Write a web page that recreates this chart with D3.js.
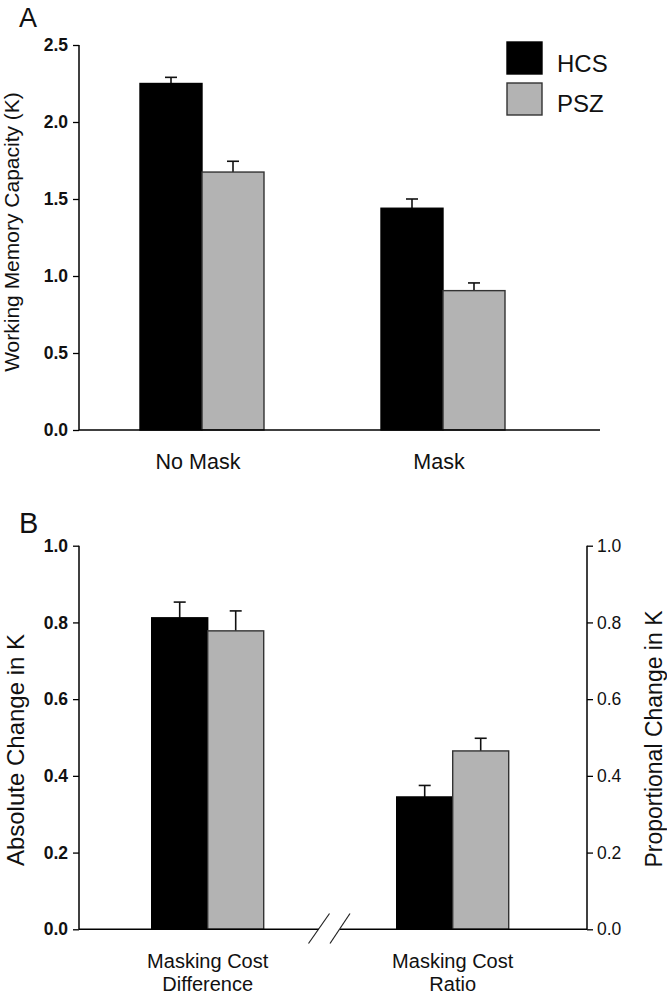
<!DOCTYPE html>
<html><head><meta charset="utf-8">
<script src="https://cdn.jsdelivr.net/npm/d3@7"></script>
<style>
body{margin:0;background:#fff;}
svg{display:block;font-family:Arial,"Liberation Sans",Helvetica,sans-serif;}
</style></head>
<body>
<svg id="c" width="667" height="996"></svg>
<script>
// ---- data ----
const seriesNames = ["HCS","PSZ"];
const seriesColors = ["#000000","#b3b3b3"];
const catsA = ["No Mask","Mask"];
const valsA_HCS = [2.25, 1.44];
const valsA_PSZ = [1.675, 0.905];
const errA_HCS = [0.04, 0.06];
const errA_PSZ = [0.07, 0.05];
const ticksA = [0,0.5,1.0,1.5,2.0,2.5];

const catsB = [["Masking Cost","Difference"],["Masking Cost","Ratio"]];
const valsB_HCS = [0.812, 0.345];
const valsB_PSZ = [0.778, 0.465];
const errB_HCS = [0.041, 0.030];
const errB_PSZ = [0.052, 0.033];
const ticksB = [0,0.2,0.4,0.6,0.8,1.0];

const svg = d3.select("#c");

function panel(cfg){
  const g = svg.append("g");
  const y = d3.scaleLinear().domain(cfg.ydom).range(cfg.yrange);
  const x0 = d3.scalePoint().domain(cfg.cats.map((d,i)=>i)).range(cfg.centers);
  const x1 = d3.scaleBand().domain(seriesNames).range([-cfg.bw, cfg.bw]).padding(0);
  const data = [];
  cfg.cats.forEach((c,i)=>{
    seriesNames.forEach((s,j)=>{
      data.push({i, s, j, v: cfg.vals[j][i], e: cfg.errs[j][i]});
    });
  });
  const eb = g.append("g");
  data.forEach(d=>{
    const cx = x0(d.i) + x1(d.s) + x1.bandwidth()/2;
    eb.append("line").attr("x1",cx).attr("x2",cx).attr("y1",y(d.v)).attr("y2",y(d.v+d.e))
      .attr("stroke","#111").attr("stroke-width",1.6);
    eb.append("line").attr("x1",cx-6).attr("x2",cx+6).attr("y1",y(d.v+d.e)).attr("y2",y(d.v+d.e))
      .attr("stroke","#111").attr("stroke-width",1.6);
  });
  g.append("g").selectAll("rect").data(data).join("rect")
    .attr("x", d=>x0(d.i)+x1(d.s))
    .attr("y", d=>y(d.v))
    .attr("width", x1.bandwidth())
    .attr("height", d=>y(0)-y(d.v))
    .attr("fill", d=>seriesColors[d.j])
    .attr("stroke", d=>d.j===0?"#000":"#333")
    .attr("stroke-width",1.4);
  const ax = g.append("g").attr("transform",`translate(${cfg.axisX},0)`)
    .call(d3.axisLeft(y).tickValues(cfg.ticks).tickFormat(d3.format(".1f")).tickSize(6).tickPadding(5));
  ax.select(".domain").attr("stroke","#000").attr("stroke-width",1.5).attr("d",`M0,${y(0)}V${y(cfg.ydom[1])}`);
  ax.selectAll(".tick line").attr("stroke","#000").attr("stroke-width",1.3);
  ax.selectAll(".tick text").attr("font-size",17.5).attr("font-weight","bold").attr("fill","#111")
    .attr("font-family","Arial,'Liberation Sans',sans-serif");
  return {g,y,x0};
}

// ---- Panel A ----
const A = panel({ydom:[0,2.5], yrange:[430,45], cats:catsA, centers:[202,443], bw:62,
  vals:[valsA_HCS,valsA_PSZ], errs:[errA_HCS,errA_PSZ], ticks:ticksA, axisX:79});
A.g.append("line").attr("x1",79).attr("x2",600).attr("y1",A.y(0)).attr("y2",A.y(0))
  .attr("stroke","#000").attr("stroke-width",1.5);
catsA.forEach((c,i)=>{
  A.g.append("text").attr("x",A.x0(i)-4).attr("y",469).attr("text-anchor","middle")
    .attr("font-size",21.5).attr("fill","#111").text(c);
});
A.g.append("text").attr("transform",`translate(19,${232}) rotate(-90)`).attr("text-anchor","middle")
  .attr("font-size",21).attr("fill","#111").text("Working Memory Capacity (K)");
svg.append("text").attr("x",19).attr("y",27).attr("font-size",27).attr("fill","#111").text("A");

// legend
const lg = svg.append("g");
seriesNames.forEach((s,j)=>{
  lg.append("rect").attr("x",507).attr("y",42+j*41).attr("width",35).attr("height",32)
    .attr("fill",seriesColors[j]).attr("stroke",j===0?"#000":"#333").attr("stroke-width",1.4);
  lg.append("text").attr("x",557).attr("y",72+j*40).attr("font-size",24).attr("fill","#111").text(s);
});

// ---- Panel B ----
const B = panel({ydom:[0,1], yrange:[929.3,545.7], cats:catsB, centers:[207.7,452.7], bw:56,
  vals:[valsB_HCS,valsB_PSZ], errs:[errB_HCS,errB_PSZ], ticks:ticksB, axisX:79});
const by0 = B.y(0);
B.g.append("line").attr("x1",79).attr("x2",319).attr("y1",by0).attr("y2",by0).attr("stroke","#000").attr("stroke-width",1.5);
B.g.append("line").attr("x1",340).attr("x2",587).attr("y1",by0).attr("y2",by0).attr("stroke","#000").attr("stroke-width",1.5);
[[308.5,329.5],[330,350]].forEach(([a,b])=>{
  B.g.append("line").attr("x1",a).attr("y1",943.5).attr("x2",b).attr("y2",913.5)
    .attr("stroke","#222").attr("stroke-width",1.2);
});
const rax = B.g.append("g").attr("transform","translate(587,0)")
  .call(d3.axisRight(B.y).tickValues(ticksB).tickFormat(d3.format(".1f")).tickSize(6).tickPadding(4));
rax.select(".domain").attr("stroke","#000").attr("stroke-width",1.5).attr("d",`M0,${B.y(0)}V${B.y(1)}`);
rax.selectAll(".tick line").attr("stroke","#000").attr("stroke-width",1.3);
rax.selectAll(".tick text").attr("font-size",17.5).attr("fill","#111")
  .attr("font-family","Arial,'Liberation Sans',sans-serif");

catsB.forEach((lines,i)=>{
  lines.forEach((t,k)=>{
    B.g.append("text").attr("x",B.x0(i)).attr("y",968+k*23).attr("text-anchor","middle")
      .attr("font-size",20).attr("fill","#111").text(t);
  });
});
B.g.append("text").attr("transform",`translate(24,750) rotate(-90)`).attr("text-anchor","middle")
  .attr("font-size",24).attr("fill","#111").text("Absolute Change in K");
B.g.append("text").attr("transform",`translate(662,739) rotate(-90)`).attr("text-anchor","middle")
  .attr("font-size",23).attr("fill","#111").text("Proportional Change in K");
svg.append("text").attr("x",19).attr("y",533).attr("font-size",29).attr("fill","#111").text("B");
</script>
</body></html>
